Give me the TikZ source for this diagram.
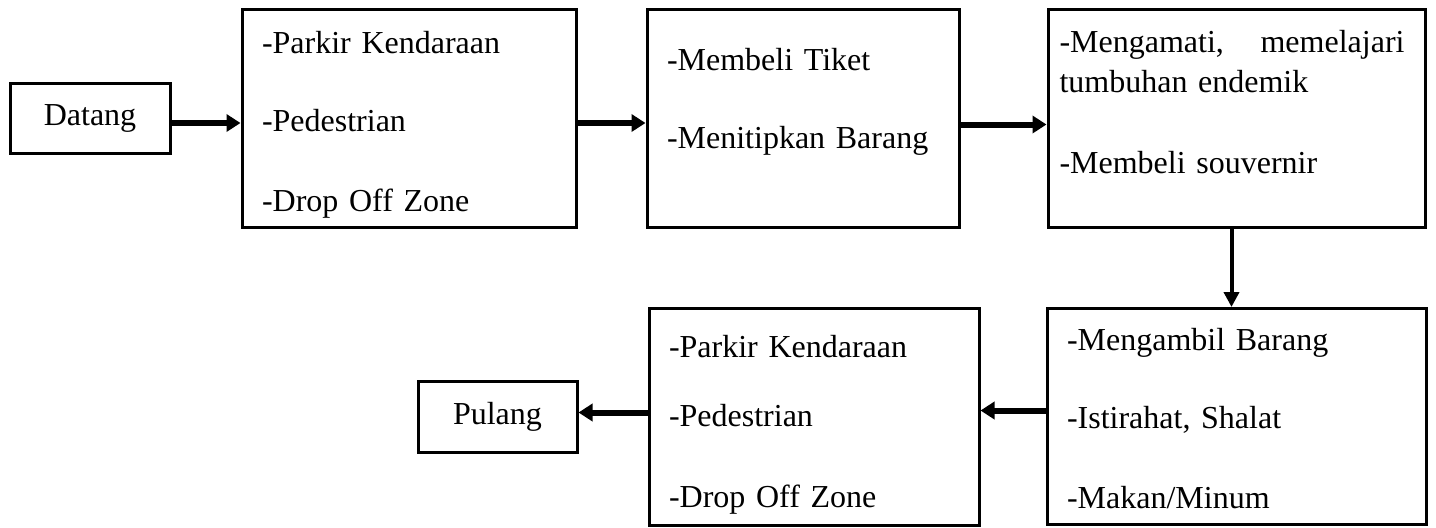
\documentclass[tikz,border=0pt]{standalone}
\usepackage{fontspec}
\setmainfont{Liberation Serif}
\usetikzlibrary{positioning,arrows.meta}

\begin{document}
\begin{tikzpicture}
    \tikzset{
      box/.style={draw, rectangle, line width=1.5pt, inner xsep=10pt, inner ysep=0pt, align=left, font=\fontsize{16pt}{20pt}\selectfont},
      term/.style={draw, rectangle, line width=1.5pt, minimum width=80pt, minimum height=35pt, font=\fontsize{16pt}{20pt}\selectfont},
      line/.style={draw, line width=3pt, -{Triangle[length=7pt,width=8.5pt]}},
      vline/.style={draw, line width=2pt, -{Triangle[length=7.5pt,width=7.5pt]}}
    }
    \useasboundingbox (0,0) rectangle (718pt,-263.5pt);
    % top row
    \node [term] (dtg) at (45pt,-59.25pt) {Datang};
    \node [box, right=34.5pt of dtg, text width=147pt, text height=21.75pt, text depth=87.25pt] (pkr)
      {-Parkir Kendaraan\\[19pt]-Pedestrian\\[20pt]-Drop Off Zone};
    \node [box, right=34pt of pkr, text width=136pt, text height=30.25pt, text depth=78.75pt] (tkt)
      {-Membeli Tiket\\[19pt]-Menitipkan Barang};
    \node [box, right=43pt of tkt, inner xsep=5.75pt, text width=177pt, text height=21.25pt, text depth=87.75pt] (amt)
      {\makebox[172.5pt]{-Mengamati,\hfill memelajari}\\tumbuhan endemik\\[20.5pt]-Membeli souvernir};
    % bottom row
    \node [box, below=39pt of amt, text width=169.5pt, text height=20.75pt, text depth=87.25pt] (amb)
      {-Mengambil Barang\\[19pt]-Istirahat, Shalat\\[20pt]-Makan/Minum};
    \node [box, left=32.5pt of amb, text width=145pt, text height=24.75pt, text depth=83.75pt] (pkr2)
      {-Parkir Kendaraan\\[14.5pt]-Pedestrian\\[20.5pt]-Drop Off Zone};
    \node [term, left=34.5pt of pkr2, minimum width=79.5pt, minimum height=35.5pt] (plg) {Pulang};

    \path [line] ([yshift=-2.25pt]dtg.east)--([yshift=-2.25pt]pkr.west);
    \path [line] ([yshift=-2.25pt]pkr.east)--([yshift=-2.25pt]tkt.west);
    \path [line] ([yshift=-3pt]tkt.east)--([yshift=-3pt]amt.west);
    \path [vline] ([xshift=-2.5pt]amt.south)--([xshift=-2.5pt]amb.north);
    \path [line] ([yshift=3pt]amb.west)--([yshift=3pt]pkr2.east);
    \path [line] ([yshift=2pt]pkr2.west)--([yshift=2pt]plg.east);
\end{tikzpicture}
\end{document}
